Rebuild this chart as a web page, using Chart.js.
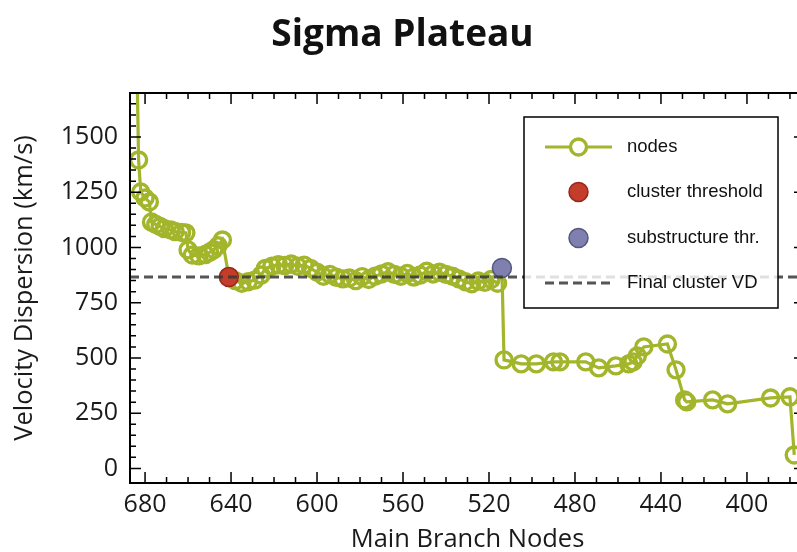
<!DOCTYPE html>
<html>
<head>
<meta charset="utf-8">
<script src="https://cdn.jsdelivr.net/npm/chart.js@4.4.1/dist/chart.umd.min.js"></script>
<style>
  html, body { margin: 0; padding: 0; background: #ffffff; overflow: hidden; width: 797px; height: 552px; }
  #wrap { width: 836px; height: 552px; }
</style>
</head>
<body>
<div id="wrap"><canvas id="c" width="836" height="552"></canvas></div>
<script>
// Main-branch node indices and their velocity dispersion (km/s)
const nodeIds = [684, 683, 682, 680, 678,
                 677, 675, 673, 671, 668, 666, 663, 661,
                 660, 658, 655, 652, 650, 648, 646, 644,
                 641, 638, 635, 632, 629, 626, 624, 621, 618, 615, 612, 609, 606, 603,
                 600, 597, 594, 591, 588, 585, 582, 579, 576, 573, 570, 567, 564, 561,
                 558, 555, 552, 549, 546, 543, 540, 537, 534, 531, 528, 525, 522, 519,
                 516, 514,
                 513, 505, 498, 490, 487, 475, 469, 461, 455, 453, 451, 448, 437, 433,
                 429, 428, 416, 409, 389, 380, 378];
const sigmaValues = [1950, 1396, 1251, 1224, 1206,
                     1115, 1104, 1095, 1085, 1079, 1072, 1068, 1066,
                     989, 966, 962, 968, 978, 990, 1008, 1034,
                     866, 850, 838, 845, 852, 875, 905, 915, 922, 918, 925, 915, 920, 905,
                     888, 870, 878, 865, 858, 862, 850, 868, 855, 870, 880, 890, 878, 870,
                     882, 866, 875, 892, 880, 888, 878, 870, 858, 845, 836, 848, 842, 855,
                     838, 907,
                     491, 473, 473, 482, 482, 482, 455, 464, 473, 482, 509, 550, 563, 446,
                     310, 301, 310, 292, 319, 324, 61];

// Threshold markers
const clusterNode = [641];
const clusterSigma = [866];
const subNode = [514];
const subSigma = [907];

// Final cluster velocity dispersion (horizontal reference)
const finalVD = 866;

// Axis ranges and tick labels
const xLimits = [373, 687];
const yLimits = [-66, 1699];
const xTickValues = [680, 640, 600, 560, 520, 480, 440, 400];
const yTickValues = [0, 250, 500, 750, 1000, 1250, 1500];

const GREEN = '#a3b52b';
const SANS = "'Open Sans', 'Noto Sans', sans-serif";
const tickFont = { family: SANS, size: 25 };

const toPoints = (xs, ys) => xs.map((x, i) => ({ x: x, y: ys[i] }));

// Frame with inward major/minor ticks on all four sides
const frameTicks = {
  id: 'frameTicks',
  afterDatasetsDraw(chart) {
    const { ctx, chartArea: a, scales } = chart;
    const xs = scales.x, ys = scales.y;
    ctx.save();
    ctx.beginPath();
    ctx.rect(a.left, a.top, a.right - a.left, a.bottom - a.top);
    ctx.clip();
    ctx.strokeStyle = '#000';
    ctx.lineWidth = 1.5;
    ctx.beginPath();
    for (let v = 380; v <= 680; v += 10) {
      const px = xs.getPixelForValue(v);
      const len = (v % 40 === 0) ? 11 : 6;
      ctx.moveTo(px, a.bottom); ctx.lineTo(px, a.bottom - len);
      ctx.moveTo(px, a.top); ctx.lineTo(px, a.top + len);
    }
    for (let v = 0; v <= 1650; v += 50) {
      const py = ys.getPixelForValue(v);
      const len = (v % 250 === 0) ? 11 : 6;
      ctx.moveTo(a.left, py); ctx.lineTo(a.left + len, py);
      ctx.moveTo(a.right, py); ctx.lineTo(a.right - len, py);
    }
    ctx.stroke();
    ctx.restore();
    ctx.save();
    ctx.strokeStyle = '#000';
    ctx.lineWidth = 2;
    ctx.strokeRect(a.left, a.top, a.right - a.left, a.bottom - a.top);
    ctx.restore();
  }
};

// Boxed legend inside the upper right of the plot
const boxLegend = {
  id: 'boxLegend',
  afterDraw(chart) {
    const { ctx } = chart;
    const bx = 524, by = 117, bw = 254, bh = 191;
    ctx.save();
    ctx.fillStyle = 'rgba(255,255,255,0.82)';
    ctx.fillRect(bx, by, bw, bh);
    ctx.strokeStyle = '#000';
    ctx.lineWidth = 1.5;
    ctx.strokeRect(bx, by, bw, bh);
    const sx0 = 545, sx1 = 612, sxc = 578.5, tx = 627;
    const rows = [147, 192, 238, 283];
    ctx.font = "18.5px 'Liberation Sans', Arial, sans-serif";
    ctx.textBaseline = 'middle';
    ctx.textAlign = 'left';
    chart.data.datasets.forEach((ds) => {
      const y = rows[ds.legendRow];
      if (ds.legendKind === 'line') {
        ctx.strokeStyle = ds.borderColor;
        ctx.lineWidth = ds.borderWidth;
        ctx.beginPath(); ctx.moveTo(sx0, y); ctx.lineTo(sx1, y); ctx.stroke();
        ctx.beginPath(); ctx.arc(sxc, y, ds.pointRadius, 0, Math.PI * 2);
        ctx.fillStyle = '#fff'; ctx.fill();
        ctx.lineWidth = ds.pointBorderWidth; ctx.strokeStyle = ds.pointBorderColor; ctx.stroke();
      } else if (ds.legendKind === 'dot') {
        ctx.beginPath(); ctx.arc(sxc, y, ds.pointRadius, 0, Math.PI * 2);
        ctx.fillStyle = ds.pointBackgroundColor; ctx.fill();
        ctx.lineWidth = ds.pointBorderWidth; ctx.strokeStyle = ds.pointBorderColor; ctx.stroke();
      } else {
        ctx.strokeStyle = ds.borderColor;
        ctx.lineWidth = ds.borderWidth;
        ctx.setLineDash(ds.borderDash);
        ctx.beginPath(); ctx.moveTo(sx0, y); ctx.lineTo(sx1, y); ctx.stroke();
        ctx.setLineDash([]);
      }
      ctx.fillStyle = '#111';
      ctx.fillText(ds.label, tx, y);
    });
    ctx.restore();
  }
};

new Chart(document.getElementById('c'), {
  type: 'line',
  data: {
    datasets: [
      {
        label: 'nodes',
        legendKind: 'line', legendRow: 0,
        data: toPoints(nodeIds, sigmaValues),
        borderColor: GREEN,
        borderWidth: 3.2,
        pointRadius: 8,
        pointBorderWidth: 3.4,
        pointBorderColor: GREEN,
        pointBackgroundColor: 'rgba(255,255,255,0)',
        tension: 0,
        order: 3
      },
      {
        label: 'cluster threshold',
        legendKind: 'dot', legendRow: 1,
        data: toPoints(clusterNode, clusterSigma),
        showLine: false,
        pointRadius: 9.5,
        pointBorderWidth: 1.5,
        pointBackgroundColor: '#c43d2a',
        pointBorderColor: '#96281a',
        order: 2
      },
      {
        label: 'substructure thr.',
        legendKind: 'dot', legendRow: 2,
        data: toPoints(subNode, subSigma),
        showLine: false,
        pointRadius: 9.5,
        pointBorderWidth: 1.5,
        pointBackgroundColor: '#7f80b0',
        pointBorderColor: '#55577e',
        order: 1
      },
      {
        label: 'Final cluster VD',
        legendKind: 'dash', legendRow: 3,
        data: toPoints([xLimits[1], xLimits[0]], [finalVD, finalVD]),
        borderColor: 'rgba(55,55,55,0.85)',
        borderWidth: 3,
        borderDash: [9, 5],
        pointRadius: 0,
        order: 0
      }
    ]
  },
  options: {
    responsive: false,
    devicePixelRatio: 1,
    animation: false,
    layout: { padding: { left: 0, right: 31, top: 0, bottom: 0 } },
    plugins: {
      legend: { display: false },
      tooltip: { enabled: false },
      title: {
        display: true,
        text: 'Sigma Plateau',
        color: '#111',
        font: { family: SANS, size: 37, weight: 'bold', lineHeight: 1.2 },
        padding: { top: 13, bottom: 35.6 }
      }
    },
    scales: {
      x: {
        type: 'linear',
        reverse: true,
        min: xLimits[0],
        max: xLimits[1],
        afterBuildTicks: s => { s.ticks = xTickValues.map(v => ({ value: v })); },
        afterFit: s => { s.height = 69; },
        grid: { display: false, drawTicks: false },
        border: { display: false },
        ticks: { color: '#1a1a1a', font: tickFont, padding: 7, maxRotation: 0, autoSkip: false,
                 callback: v => String(v) },
        title: {
          display: true,
          text: 'Main Branch Nodes',
          color: '#1a1a1a',
          font: { family: SANS, size: 25.5, lineHeight: 1 },
          padding: { top: 0, bottom: 0 }
        }
      },
      y: {
        type: 'linear',
        min: yLimits[0],
        max: yLimits[1],
        afterBuildTicks: s => { s.ticks = yTickValues.map(v => ({ value: v })); },
        afterFit: s => { s.width = 130; },
        grid: { display: false, drawTicks: false },
        border: { display: false },
        ticks: { color: '#1a1a1a', font: tickFont, padding: 12, callback: v => String(v) },
        title: {
          display: true,
          text: 'Velocity Dispersion (km/s)',
          color: '#1a1a1a',
          font: { family: SANS, size: 25.5, lineHeight: 1 },
          padding: { top: 12, bottom: 0 }
        }
      }
    }
  },
  plugins: [frameTicks, boxLegend]
});
</script>
</body>
</html>
